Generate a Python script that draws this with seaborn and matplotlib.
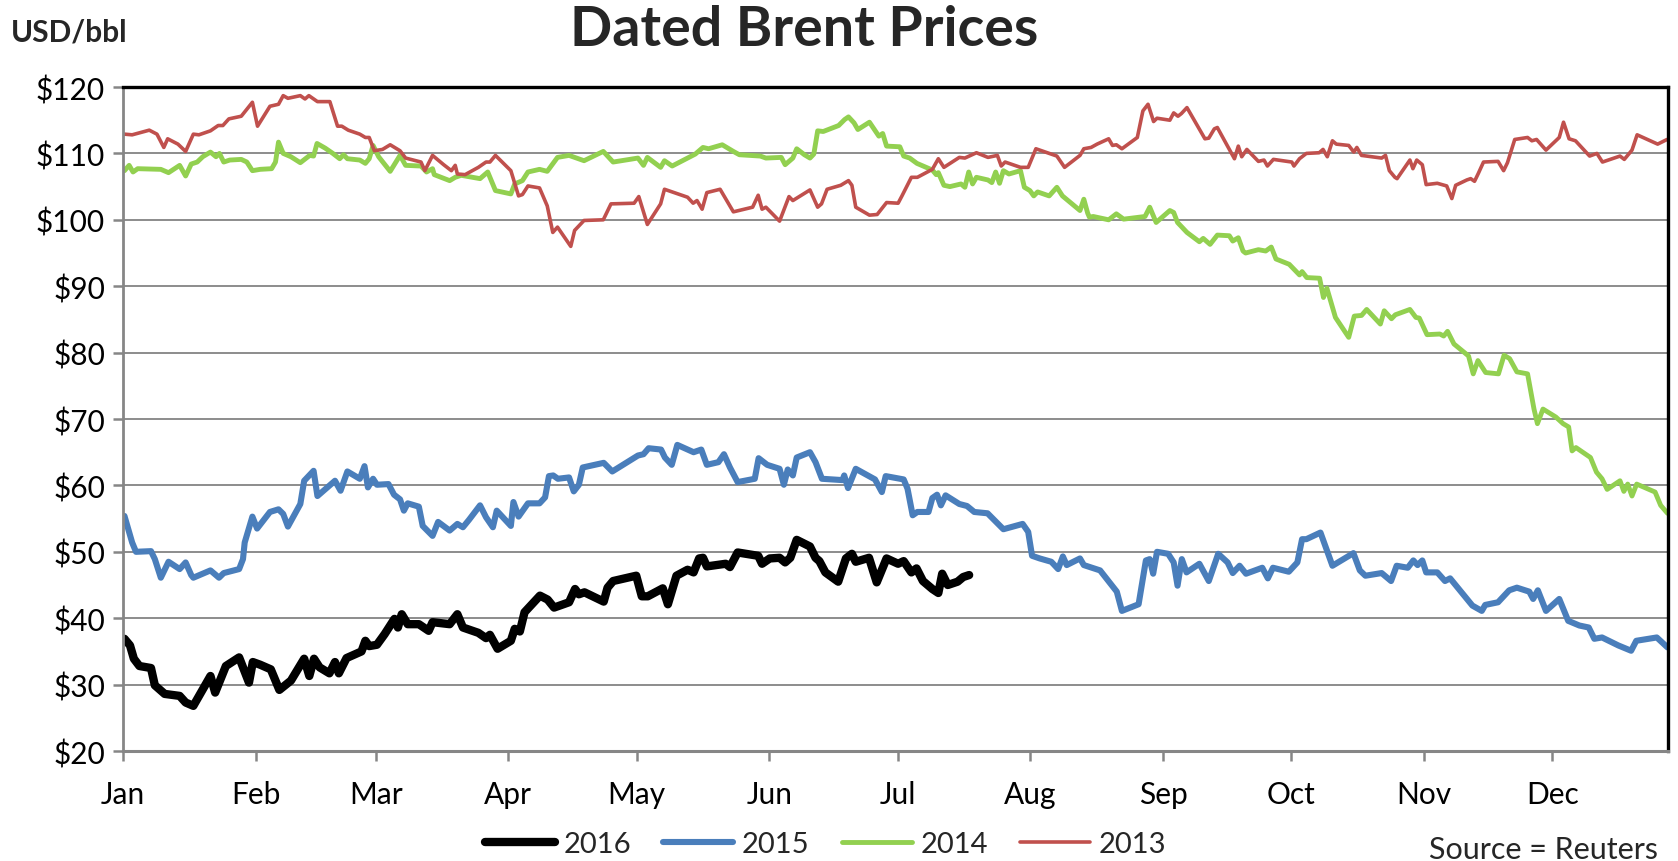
import matplotlib
matplotlib.use("Agg")
import matplotlib.pyplot as plt
from matplotlib.lines import Line2D
from matplotlib.ticker import StrMethodFormatter
import pandas as pd
import seaborn as sns

sns.set_theme(style="white")
plt.rcParams['font.family'] = ['Lato', 'DejaVu Sans']
plt.rcParams['lines.solid_joinstyle'] = 'round'
plt.rcParams['lines.solid_capstyle'] = 'round'

# day of year (0 = 1 Jan) and price in USD/bbl
days_2013 = [0.3, 2.1, 6.1, 7.9, 9.5, 10.4, 12.8, 14.6, 16.4, 17.7,
             20.4, 22.2, 23.3, 24.7, 27.6, 30.2, 31.4, 34.3, 36.3, 37.4,
             38.5, 41.4, 42.5, 43.4, 45.4, 48.3, 50.1, 51.1, 52.6, 55.3,
             56.6, 57.5, 58.7, 60.6, 62.4, 64.7, 66.0, 69.6, 70.5, 72.3,
             74.9, 76.7, 77.6, 78.1, 79.9, 83.0, 84.8, 85.7, 87.0, 90.6,
             92.4, 93.3, 94.6, 97.3, 99.1, 100.4, 101.5, 104.6, 105.5, 107.7,
             112.2, 114.0, 119.4, 120.5, 122.5, 125.6, 126.5, 131.9, 133.2, 134.1,
             135.3, 136.4, 139.5, 142.6, 147.1, 148.4, 149.3, 150.2, 153.4, 155.6,
             156.5, 160.5, 162.3, 163.2, 164.5, 167.7, 169.5, 170.3, 171.2, 174.4,
             176.2, 178.4, 181.1, 182.0, 184.2, 185.6, 189.1, 190.5, 191.8, 195.4,
             196.7, 199.4, 202.1, 204.3, 205.2, 206.1, 209.7, 211.5, 213.3, 218.2,
             220.0, 223.6, 224.5, 226.2, 227.6, 230.3, 231.2, 232.1, 233.4, 237.0,
             238.3, 239.5, 240.8, 241.6, 244.6, 245.5, 246.5, 247.3, 248.6, 252.8,
             253.7, 255.0, 255.7, 259.7, 260.6, 261.4, 262.6, 265.3, 266.6, 267.4,
             268.8, 273.1, 273.6, 274.9, 276.5, 279.5, 280.4, 281.4, 282.6, 283.5,
             286.4, 287.6, 288.3, 289.4, 294.1, 295.0, 295.9, 297.2, 297.7, 300.7,
             301.4, 302.3, 303.6, 304.5, 307.1, 309.3, 310.5, 311.4, 314.0, 314.9,
             315.8, 316.7, 317.9, 321.3, 322.6, 323.5, 325.2, 328.2, 329.2, 330.3,
             332.5, 335.6, 336.6, 337.9, 339.4, 342.7, 344.4, 345.7, 349.8, 350.8,
             352.6, 353.8, 358.6, 360.8]
price_2013 = [112.9, 112.8, 113.5, 112.9, 110.9, 112.2, 111.4, 110.3, 112.9, 112.8,
              113.4, 114.2, 114.2, 115.2, 115.6, 117.7, 114.1, 117.1, 117.4, 118.7,
              118.3, 118.7, 118.2, 118.7, 117.8, 117.8, 114.1, 114.1, 113.5, 112.9,
              112.4, 112.4, 110.4, 110.6, 111.3, 110.4, 109.3, 108.7, 107.4, 109.7,
              108.3, 107.4, 108.2, 106.9, 106.8, 107.9, 108.7, 108.7, 109.7, 107.4,
              103.6, 103.8, 105.1, 104.8, 102.1, 98.1, 98.9, 96.0, 98.4, 99.9,
              100.0, 102.4, 102.5, 103.5, 99.3, 102.4, 104.6, 103.4, 102.5, 102.9,
              101.6, 104.1, 104.6, 101.2, 101.9, 103.7, 101.6, 101.9, 99.8, 103.5,
              102.9, 104.5, 101.9, 102.4, 104.6, 105.2, 105.9, 105.2, 101.9, 100.7,
              100.8, 102.6, 102.5, 103.6, 106.4, 106.4, 107.6, 109.2, 107.9, 109.4,
              109.3, 110.1, 109.4, 109.7, 108.1, 108.7, 107.9, 107.9, 110.7, 109.6,
              107.9, 109.7, 110.7, 110.9, 111.4, 112.2, 111.2, 111.3, 110.7, 112.4,
              116.4, 117.4, 114.8, 115.3, 115.0, 116.1, 115.6, 116.0, 116.9, 112.2,
              112.3, 113.7, 113.9, 109.2, 111.1, 109.5, 110.6, 108.8, 109.0, 108.1,
              109.1, 108.7, 108.1, 109.2, 110.0, 110.1, 110.6, 109.5, 111.9, 111.4,
              111.2, 110.2, 110.9, 109.7, 109.3, 109.7, 107.4, 106.4, 106.2, 109.0,
              107.7, 109.0, 108.3, 105.3, 105.5, 105.1, 103.2, 105.2, 106.0, 106.2,
              105.8, 107.0, 108.7, 108.8, 107.4, 108.6, 112.1, 112.4, 111.9, 112.1,
              110.5, 112.4, 114.7, 112.2, 111.9, 109.6, 110.0, 108.7, 109.6, 109.1,
              110.5, 112.8, 111.4, 112.1]

days_2014 = [0.3, 1.4, 2.3, 3.4, 8.8, 10.6, 13.2, 14.6, 15.9, 17.3,
             18.6, 20.4, 21.7, 22.5, 23.5, 24.9, 27.6, 28.9, 30.2, 32.0,
             34.7, 35.6, 36.3, 37.4, 39.2, 41.4, 43.6, 44.5, 45.3, 47.2,
             49.0, 50.6, 51.5, 52.4, 55.3, 56.6, 57.5, 58.4, 59.7, 62.4,
             64.7, 66.0, 69.6, 70.9, 72.3, 72.7, 76.3, 77.6, 79.0, 83.4,
             85.2, 87.0, 90.6, 91.5, 93.3, 94.6, 97.3, 99.1, 101.5, 104.2,
             107.7, 112.2, 114.5, 120.3, 121.6, 122.5, 125.6, 126.5, 128.3, 133.7,
             135.5, 136.8, 140.0, 142.6, 144.0, 148.9, 150.2, 153.8, 154.7, 156.5,
             157.4, 159.2, 160.5, 161.4, 162.3, 163.6, 167.2, 168.6, 169.5, 170.8,
             171.7, 174.4, 176.6, 177.5, 178.4, 181.5, 182.4, 183.8, 185.5, 189.1,
             190.0, 190.5, 191.8, 193.2, 195.8, 196.7, 197.6, 198.5, 199.4, 202.1,
             203.0, 203.9, 204.8, 205.7, 207.0, 209.7, 210.6, 211.9, 212.8, 213.7,
             216.4, 218.2, 219.5, 223.6, 224.5, 225.4, 225.8, 226.7, 230.3, 232.1,
             233.8, 238.8, 239.9, 241.4, 244.6, 245.5, 246.4, 248.6, 251.5, 252.4,
             254.0, 255.7, 258.5, 259.3, 260.6, 261.7, 262.3, 265.3, 267.0, 268.3,
             269.4, 272.5, 274.9, 275.5, 276.6, 279.6, 280.5, 281.3, 283.3, 286.4,
             287.7, 289.4, 290.6, 293.8, 294.7, 296.4, 297.3, 300.7, 302.1, 302.9,
             304.7, 307.7, 308.6, 309.5, 311.0, 314.4, 315.5, 316.6, 318.4, 321.4,
             322.7, 324.0, 325.7, 328.2, 329.7, 330.5, 331.8, 334.8, 336.5, 337.8,
             338.6, 339.5, 342.9, 344.3, 345.6, 346.8, 349.8, 350.7, 351.6, 352.6,
             353.7, 358.0, 359.3, 360.9]
price_2014 = [107.4, 108.2, 107.2, 107.7, 107.6, 107.1, 108.2, 106.6, 108.4, 108.7,
              109.5, 110.2, 109.5, 110.0, 108.7, 109.0, 109.1, 108.7, 107.4, 107.6,
              107.7, 108.7, 111.7, 110.0, 109.5, 108.6, 109.7, 109.6, 111.5, 110.8,
              110.0, 109.2, 109.8, 109.2, 109.0, 108.5, 109.2, 111.2, 109.5, 107.3,
              109.7, 108.2, 108.1, 107.2, 107.7, 106.8, 105.9, 106.4, 106.7, 106.2,
              107.2, 104.4, 103.9, 105.4, 105.9, 107.2, 107.6, 107.3, 109.4, 109.7,
              108.9, 110.3, 108.7, 109.3, 108.2, 109.4, 107.9, 108.9, 108.1, 109.9,
              110.9, 110.7, 111.3, 110.3, 109.8, 109.6, 109.3, 109.4, 108.3, 109.3,
              110.7, 109.8, 109.3, 109.9, 113.4, 113.3, 114.2, 115.1, 115.5, 114.6,
              113.6, 114.7, 112.6, 113.0, 111.1, 111.0, 109.6, 109.3, 108.5, 107.5,
              106.8, 107.1, 105.2, 105.0, 105.4, 104.9, 107.2, 105.4, 106.4, 106.0,
              105.6, 107.2, 105.5, 107.4, 106.9, 107.4, 104.9, 104.4, 103.6, 104.2,
              103.6, 104.9, 103.6, 101.4, 103.1, 101.0, 100.4, 100.5, 100.0, 100.9,
              100.1, 100.5, 101.9, 99.6, 101.4, 101.1, 99.6, 98.1, 96.7, 97.2,
              96.3, 97.7, 97.6, 96.8, 97.3, 95.3, 95.0, 95.5, 95.3, 95.9,
              94.1, 93.3, 91.7, 92.2, 91.3, 91.2, 88.3, 89.7, 85.3, 82.3,
              85.5, 85.6, 86.5, 84.3, 86.3, 85.1, 85.7, 86.5, 85.3, 85.2,
              82.7, 82.8, 82.5, 83.2, 81.3, 79.5, 76.8, 78.8, 77.0, 76.8,
              79.6, 79.1, 77.1, 76.8, 71.5, 69.3, 71.5, 70.3, 69.3, 68.8,
              65.2, 65.7, 64.2, 62.0, 61.0, 59.4, 60.7, 59.1, 60.2, 58.4,
              60.2, 59.0, 57.0, 55.8]

days_2015 = [0.3, 2.1, 3.0, 6.5, 7.4, 8.8, 10.6, 13.2, 14.6, 15.9,
             16.4, 20.4, 22.4, 23.5, 27.1, 28.0, 28.4, 30.2, 31.3, 34.3,
             36.3, 37.4, 38.5, 41.4, 42.3, 44.5, 45.4, 49.5, 50.8, 52.4,
             55.3, 56.4, 57.2, 58.4, 59.3, 62.0, 63.3, 64.7, 65.6, 66.5,
             69.1, 70.0, 72.3, 73.6, 76.3, 78.1, 79.4, 80.8, 83.4, 84.8,
             86.4, 87.3, 90.6, 91.2, 92.4, 94.6, 97.3, 98.6, 99.5, 100.5,
             101.6, 104.2, 105.3, 106.5, 107.4, 112.3, 114.3, 120.3, 121.6, 122.8,
             125.7, 126.6, 128.2, 129.5, 133.3, 135.1, 136.4, 139.1, 140.4, 141.8,
             143.6, 147.6, 148.5, 150.5, 153.4, 154.4, 155.3, 156.5, 157.4, 160.5,
             161.8, 163.3, 168.1, 168.5, 169.4, 171.2, 175.7, 177.3, 178.2, 182.4,
             183.3, 184.5, 185.6, 188.2, 189.1, 190.2, 191.1, 192.2, 195.4, 197.2,
             198.9, 202.0, 205.7, 210.2, 211.5, 212.4, 214.2, 216.9, 218.5, 219.6,
             220.5, 223.6, 224.5, 228.3, 232.2, 233.4, 237.3, 239.0, 239.9, 240.7,
             241.6, 244.2, 245.5, 246.4, 247.4, 248.5, 251.5, 253.7, 255.9, 258.1,
             259.3, 260.9, 262.4, 266.2, 267.5, 268.7, 272.4, 274.4, 275.5, 276.5,
             279.8, 282.6, 287.5, 289.0, 290.3, 294.1, 296.3, 297.6, 300.2, 301.5,
             302.5, 303.6, 304.5, 307.1, 308.9, 310.1, 315.3, 317.5, 318.3, 321.3,
             323.9, 325.7, 328.6, 329.5, 330.6, 332.5, 335.6, 337.7, 340.3, 342.5,
             343.8, 345.6, 349.4, 352.4, 353.6, 358.4, 360.9]
price_2015 = [55.4, 51.4, 50.0, 50.1, 48.9, 46.1, 48.5, 47.4, 48.4, 46.5,
              46.1, 47.2, 46.1, 46.8, 47.4, 48.9, 51.4, 55.3, 53.5, 56.0,
              56.4, 55.7, 53.8, 57.2, 60.7, 62.2, 58.4, 60.7, 59.2, 62.1,
              61.0, 62.9, 59.7, 61.0, 60.1, 60.2, 58.6, 57.9, 56.2, 57.3,
              56.8, 53.9, 52.4, 54.5, 53.2, 54.2, 53.7, 54.8, 57.0, 55.2,
              53.7, 56.2, 53.9, 57.5, 55.3, 57.3, 57.3, 58.2, 61.4, 61.5,
              61.0, 61.2, 59.1, 60.1, 62.7, 63.4, 62.1, 64.5, 64.7, 65.6,
              65.4, 64.2, 63.1, 66.1, 65.0, 65.4, 63.1, 63.5, 64.7, 62.7,
              60.5, 61.0, 64.1, 63.1, 62.5, 60.1, 62.4, 61.5, 64.2, 65.0,
              63.5, 61.0, 60.8, 61.5, 59.6, 62.5, 60.9, 59.0, 61.4, 60.9,
              59.5, 55.5, 56.0, 56.0, 58.1, 58.6, 57.0, 58.5, 57.2, 56.9,
              56.0, 55.8, 53.4, 54.2, 53.0, 49.4, 49.0, 48.5, 47.4, 49.3,
              48.0, 49.0, 48.0, 47.2, 44.0, 41.1, 42.1, 48.7, 48.9, 46.7,
              50.0, 49.7, 48.4, 44.9, 48.9, 46.9, 48.2, 45.6, 49.7, 48.4,
              46.8, 47.9, 46.7, 47.6, 46.0, 47.6, 47.0, 48.4, 51.9, 51.9,
              52.9, 47.9, 49.8, 47.2, 46.4, 46.8, 45.6, 47.9, 47.6, 48.7,
              48.0, 48.7, 46.9, 46.9, 45.6, 46.0, 41.9, 41.1, 42.0, 42.4,
              44.2, 44.6, 44.0, 42.9, 44.2, 41.1, 42.9, 39.6, 38.9, 38.6,
              36.9, 37.1, 35.9, 35.1, 36.6, 37.1, 35.6]

days_2016 = [0.3, 1.6, 2.5, 3.8, 6.5, 7.4, 9.7, 13.2, 14.6, 16.4,
             20.4, 21.5, 24.0, 27.1, 29.4, 30.3, 32.0, 34.5, 36.5, 39.2,
             42.3, 43.5, 44.6, 45.9, 48.2, 49.5, 50.4, 52.2, 55.7, 56.6,
             57.5, 59.3, 61.1, 63.4, 64.2, 65.1, 66.5, 69.1, 71.4, 72.3,
             76.3, 78.1, 79.4, 83.0, 84.8, 85.7, 87.5, 90.6, 91.5, 92.7,
             93.8, 97.4, 99.2, 100.7, 104.2, 105.6, 106.5, 107.8, 112.3, 113.2,
             114.5, 119.9, 121.2, 122.6, 126.1, 127.3, 129.3, 131.9, 133.3, 134.6,
             135.5, 136.4, 140.8, 141.8, 143.6, 148.4, 149.3, 151.1, 153.4, 154.7,
             155.9, 157.4, 160.5, 161.8, 162.7, 164.1, 167.1, 168.9, 170.3, 171.2,
             174.3, 176.1, 178.4, 181.1, 182.4, 184.2, 185.4, 186.9, 189.1, 190.5,
             191.4, 192.7, 195.0, 196.3, 197.7]
price_2016 = [36.9, 35.9, 33.9, 32.8, 32.5, 29.9, 28.6, 28.3, 27.3, 26.8,
              31.3, 28.8, 32.8, 34.1, 30.3, 33.4, 33.0, 32.3, 29.2, 30.6,
              33.9, 31.3, 33.9, 32.6, 31.7, 33.4, 31.7, 34.0, 35.0, 36.6,
              35.8, 36.0, 37.6, 39.9, 38.6, 40.6, 39.1, 39.1, 38.1, 39.4,
              39.1, 40.6, 38.6, 37.8, 37.0, 37.5, 35.4, 36.6, 38.4, 38.0,
              40.9, 43.4, 42.8, 41.6, 42.4, 44.4, 43.6, 43.9, 42.5, 44.6,
              45.6, 46.4, 43.3, 43.3, 44.5, 42.1, 46.4, 47.3, 46.9, 49.0,
              49.1, 47.8, 48.2, 47.7, 49.9, 49.4, 48.2, 49.0, 49.1, 48.4,
              49.1, 51.8, 50.8, 49.1, 48.6, 46.9, 45.5, 49.0, 49.7, 48.5,
              49.1, 45.4, 49.0, 48.2, 48.6, 46.9, 47.5, 45.6, 44.4, 43.8,
              46.7, 45.0, 45.5, 46.2, 46.5]

years = ["2016", "2015", "2014", "2013"]
colors = {"2016": "#000000", "2015": "#4A7EBB", "2014": "#92D050", "2013": "#C0504D"}
widths = {"2016": 6.0, "2015": 4.4, "2014": 3.5, "2013": 2.6}

month_starts = [0, 31, 59, 90, 120, 151, 181, 212, 243, 273, 304, 334]
month_names = ["Jan", "Feb", "Mar", "Apr", "May", "Jun",
               "Jul", "Aug", "Sep", "Oct", "Nov", "Dec"]
price_ticks = list(range(20, 121, 10))

series = {"2016": (days_2016, price_2016), "2015": (days_2015, price_2015),
          "2014": (days_2014, price_2014), "2013": (days_2013, price_2013)}
frames = []
for y in years:
    d, p = series[y]
    assert len(d) == len(p), (y, len(d), len(p))
    frames.append(pd.DataFrame({"day": d, "price": p, "year": y}))
df = pd.concat(frames, ignore_index=True)

fig = plt.figure(figsize=(16.78, 8.62), dpi=100)
ax = fig.add_axes([0.0734, 0.1276, 0.9206, 0.7703])

sns.lineplot(data=df, x="day", y="price", hue="year", size="year",
             hue_order=years, size_order=years, palette=colors, sizes=widths,
             sort=False, estimator=None, legend=False, ax=ax)

ax.set_xlim(0, 361)
ax.set_ylim(20, 120)
ax.set_xticks(month_starts)
ax.set_xticklabels(month_names)
ax.set_yticks(price_ticks)
ax.yaxis.set_major_formatter(StrMethodFormatter("${x:.0f}"))
ax.set_xlabel("")
ax.set_ylabel("")

ax.set_axisbelow(True)
ax.grid(axis="y", color="#8c8c8c", linewidth=1.4)
ax.grid(axis="x", visible=False)

grey = "#868686"
ax.spines["left"].set_color(grey)
ax.spines["left"].set_linewidth(2.0)
ax.spines["bottom"].set_color(grey)
ax.spines["bottom"].set_linewidth(2.2)
ax.spines["top"].set_color("black")
ax.spines["top"].set_linewidth(2.4)
ax.spines["right"].set_color("black")
ax.spines["right"].set_linewidth(2.4)

ax.tick_params(axis="both", direction="out", length=7, width=1.8, color=grey,
               labelsize=21.5, labelcolor="black")
ax.tick_params(axis="x", pad=14, bottom=True)
ax.tick_params(axis="y", pad=6, left=True)

fig.text(0.479, 0.965, "Dated Brent Prices", ha="center", va="center",
         fontsize=40, fontweight="bold")
fig.text(0.0066, 0.962, "USD/bbl", ha="left", va="center",
         fontsize=21.5, fontweight="bold")
fig.text(0.988, 0.004, "Source = Reuters", ha="right", va="baseline", fontsize=22)

handles = [Line2D([], [], color=colors[y], linewidth=widths[y],
                  solid_capstyle="round") for y in years]
fig.legend(handles, years, loc="center", bbox_to_anchor=(0.492, 0.0197),
           ncol=4, frameon=False, fontsize=21, handlelength=2.4,
           handletextpad=0.3, columnspacing=1.1)

fig.savefig("out.png", dpi=100)
